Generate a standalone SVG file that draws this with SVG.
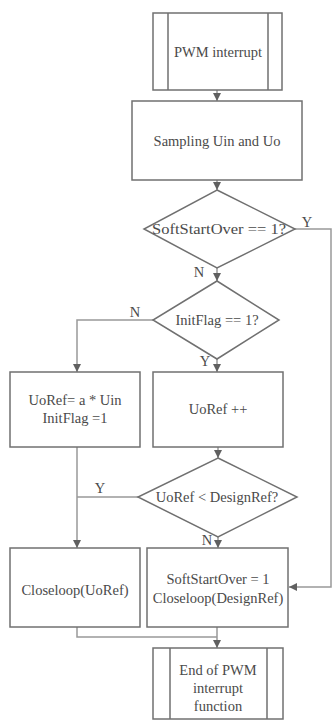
<svg xmlns="http://www.w3.org/2000/svg" width="333" height="724" viewBox="0 0 333 724">
<style>
.s{fill:#fff;stroke:#707070;stroke-width:1.5}
.b{fill:none;stroke:#707070;stroke-width:1.5}
.c{fill:none;stroke:#999;stroke-width:1.5}
text{font-family:"Liberation Serif","Times New Roman",serif;font-size:14.5px;fill:#4a4a4a;text-anchor:middle}
</style>
<defs>
<marker id="a" viewBox="0 0 10 10" refX="10" refY="5" markerWidth="8" markerHeight="8" orient="auto" markerUnits="userSpaceOnUse">
<path d="M0,0 L10,5 L0,10 Z" fill="#606060"/>
</marker>
</defs>
<rect width="333" height="724" fill="#fff"/>
<g id="connectors">
<path class="c" d="M217,90 V101" marker-end="url(#a)"/>
<path class="c" d="M217,180 V190" marker-end="url(#a)"/>
<path class="c" d="M217,268 V281" marker-end="url(#a)"/>
<path class="c" d="M295,229 H331 V587 H289" marker-end="url(#a)"/>
<path class="c" d="M153,320 H77 V372" marker-end="url(#a)"/>
<path class="c" d="M217,359 V372" marker-end="url(#a)"/>
<path class="c" d="M218,447 V458" marker-end="url(#a)"/>
<path class="c" d="M77,447 V548" marker-end="url(#a)"/>
<path class="c" d="M138,497 H77"/>
<path class="c" d="M218,537 V548" marker-end="url(#a)"/>
<path class="c" d="M77,627 V637 H217"/>
<path class="c" d="M217,627 V648" marker-end="url(#a)"/>
<text x="307" y="227">Y</text>
<text x="199" y="277">N</text>
<text x="135" y="317">N</text>
<text x="205" y="366">Y</text>
<text x="100" y="493">Y</text>
<text x="207" y="545">N</text>
</g>
<g id="pwm">
<rect class="s" x="153" y="13" width="129" height="77"/>
<path class="b" d="M168,13 V90 M268,13 V90"/>
<text x="218" y="57">PWM interrupt</text>
</g>
<g id="sampling">
<rect class="s" x="132" y="101" width="170" height="79"/>
<text x="217" y="146">Sampling Uin and Uo</text>
</g>
<g id="d1">
<polygon class="s" points="217,190 295,229 217,268 144,229"/>
<text x="219" y="234" textLength="134" lengthAdjust="spacingAndGlyphs">SoftStartOver == 1?</text>
</g>
<g id="d2">
<polygon class="s" points="217,281 279,320 217,359 153,320"/>
<text x="217" y="325">InitFlag == 1?</text>
</g>
<g id="init">
<rect class="s" x="10" y="372" width="130" height="75"/>
<text x="75" y="405">UoRef= a * Uin</text>
<text x="75" y="423">InitFlag =1</text>
</g>
<g id="inc">
<rect class="s" x="153" y="372" width="130" height="75"/>
<text x="218" y="414">UoRef ++</text>
</g>
<g id="d3">
<polygon class="s" points="218,458 297,497 218,537 138,497"/>
<text x="217" y="502">UoRef &lt; DesignRef?</text>
</g>
<g id="cl1">
<rect class="s" x="10" y="548" width="130" height="79"/>
<text x="75" y="595">Closeloop(UoRef)</text>
</g>
<g id="cl2">
<rect class="s" x="147" y="548" width="141" height="79"/>
<text x="218" y="584">SoftStartOver = 1</text>
<text x="218" y="603">Closeloop(DesignRef)</text>
</g>
<g id="end">
<rect class="s" x="153" y="648" width="130" height="71"/>
<path class="b" d="M170,648 V719 M267,648 V719"/>
<text x="218" y="675">End of PWM</text>
<text x="218" y="693">interrupt</text>
<text x="218" y="711">function</text>
</g>
</svg>
